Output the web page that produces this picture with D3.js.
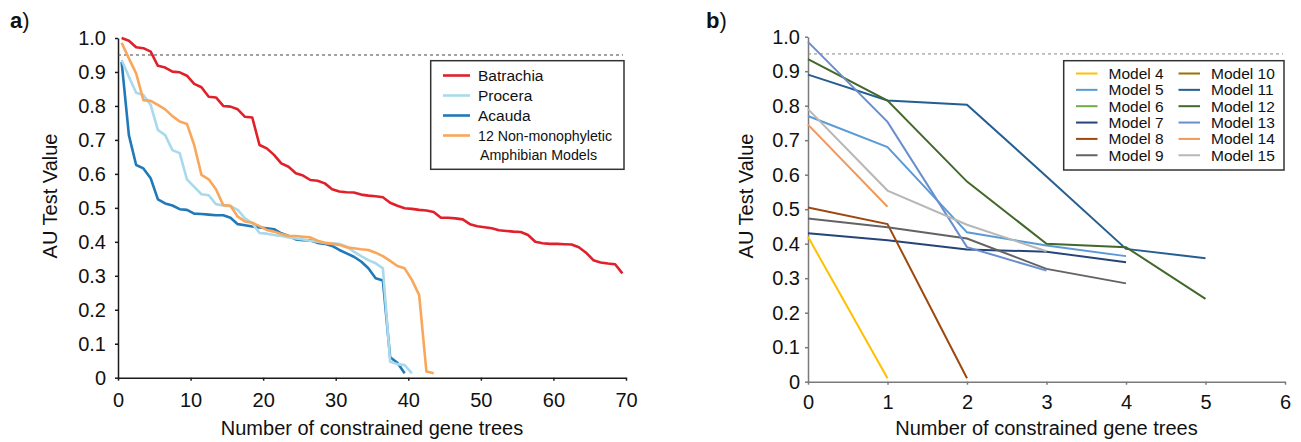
<!DOCTYPE html>
<html>
<head>
<meta charset="utf-8">
<script src="https://cdn.jsdelivr.net/npm/d3@7/dist/d3.min.js"></script>
<style>
    body { margin: 0; background: #fff; }
    text { font-family: 'Liberation Sans', Arial, Helvetica, sans-serif; }
</style>
</head>
<body>
<div id="chart"></div>
<script>
/* global d3 */

// panel a: AU values sorted per constrained gene tree
let batrachia = [
    1.0, 0.992, 0.973, 0.970, 0.960, 0.918, 0.913, 0.901, 0.899, 0.889,
    0.865, 0.855, 0.827, 0.825, 0.800, 0.798, 0.790, 0.768, 0.766, 0.685,
    0.675, 0.656, 0.631, 0.621, 0.602, 0.595, 0.582, 0.580, 0.572, 0.555,
    0.548, 0.546, 0.545, 0.539, 0.536, 0.534, 0.531, 0.515, 0.506, 0.499,
    0.497, 0.494, 0.492, 0.488, 0.471, 0.471, 0.469, 0.466, 0.452, 0.446,
    0.443, 0.440, 0.434, 0.432, 0.430, 0.429, 0.420, 0.400, 0.396, 0.394,
    0.394, 0.393, 0.392, 0.384, 0.368, 0.346, 0.339, 0.336, 0.334, 0.307
]
let procera = [
    0.935, 0.886, 0.839, 0.832, 0.803, 0.729, 0.714, 0.670, 0.661, 0.584,
    0.562, 0.540, 0.537, 0.511, 0.507, 0.505, 0.494, 0.469, 0.455, 0.426,
    0.424, 0.420, 0.417, 0.413, 0.410, 0.407, 0.403, 0.400, 0.397, 0.396,
    0.394, 0.386, 0.371, 0.358, 0.346, 0.337, 0.322, 0.047, 0.040, 0.037,
    0.013
]
let acauda = [
    0.930, 0.714, 0.626, 0.616, 0.587, 0.525, 0.513, 0.507, 0.496, 0.494,
    0.483, 0.482, 0.480, 0.478, 0.478, 0.471, 0.452, 0.449, 0.445, 0.442,
    0.440, 0.437, 0.425, 0.417, 0.407, 0.405, 0.404, 0.397, 0.394, 0.388,
    0.376, 0.366, 0.356, 0.342, 0.322, 0.293, 0.286, 0.060, 0.044, 0.013
]
let nonMono = [
    0.986, 0.940, 0.896, 0.817, 0.815, 0.803, 0.790, 0.770, 0.754, 0.747,
    0.685, 0.597, 0.584, 0.555, 0.508, 0.506, 0.474, 0.460, 0.456, 0.446,
    0.435, 0.430, 0.423, 0.417, 0.417, 0.415, 0.413, 0.403, 0.397, 0.394,
    0.391, 0.384, 0.381, 0.378, 0.376, 0.368, 0.358, 0.344, 0.329, 0.322,
    0.288, 0.243, 0.018, 0.013
]
let seriesNamesA = ['Batrachia', 'Procera', 'Acauda', '12 Non-monophyletic']
let seriesColorsA = ['#e0212b', '#a8daec', '#2079b9', '#f9a75b']

// panel b: one line per model
let model4 = [0.42, 0.01]
let model5 = [0.77, 0.68, 0.433, 0.395, 0.364]
let model6 = []
let model7 = [0.43, 0.41, 0.383, 0.377, 0.346]
let model8 = [0.505, 0.457, 0.01]
let model9 = [0.473, 0.448, 0.415, 0.327, 0.285]
let model10 = []
let model11 = [0.89, 0.815, 0.803, 0.595, 0.385, 0.358]
let model12 = [0.935, 0.815, 0.58, 0.40, 0.39, 0.24]
let model13 = [0.985, 0.753, 0.39, 0.322]
let model14 = [0.745, 0.507]
let model15 = [0.79, 0.554, 0.455, 0.378]
let modelNames = ['Model 4', 'Model 5', 'Model 6', 'Model 7', 'Model 8', 'Model 9',
    'Model 10', 'Model 11', 'Model 12', 'Model 13', 'Model 14', 'Model 15']
let modelColors = ['#ffc000', '#5b9bd5', '#70ad47', '#264478', '#9e480e', '#636363',
    '#997300', '#255e91', '#43682b', '#698ed0', '#f1975a', '#b7b7b7']

let yTicks = [0, 0.1, 0.2, 0.3, 0.4, 0.5, 0.6, 0.7, 0.8, 0.9, 1.0]
let xTicksA = [0, 10, 20, 30, 40, 50, 60, 70]
let xTicksB = [0, 1, 2, 3, 4, 5, 6]
let threshold = 0.95

let svg = d3.select('#chart').append('svg')
    .attr('width', 1301)
    .attr('height', 442)

let yFormat = (d) => d === 0 ? '0' : d3.format('.1f')(d)
let fontStack = "'Liberation Sans', Arial, Helvetica, sans-serif"

function drawAxes (g, xScale, yScale, opts) {
    let xAxis = g.append('g').attr('class', 'x-axis')
        .attr('transform', 'translate(0,' + yScale(0) + ')')
        .call(d3.axisBottom(xScale).tickValues(opts.xTicks).tickFormat(d3.format('d'))
            .tickSize(3).tickSizeOuter(0).tickPadding(opts.xPad))
    let yAxis = g.append('g').attr('class', 'y-axis')
        .attr('transform', 'translate(' + xScale(0) + ',0)')
        .call(d3.axisLeft(yScale).tickValues(yTicks).tickFormat(yFormat)
            .tickSize(3).tickSizeOuter(0).tickPadding(opts.yPad))

    ;[xAxis, yAxis].forEach((ax) => {
        ax.attr('font-size', 20).attr('font-family', fontStack)
        ax.select('.domain').attr('stroke', opts.axisColor).attr('stroke-width', 1.5)
        ax.selectAll('.tick line').attr('stroke', opts.axisColor).attr('stroke-width', 1.5)
        ax.selectAll('.tick text').attr('fill', '#111')
    })

    // 0.95 significance line
    g.append('line')
        .attr('x1', xScale(0)).attr('x2', opts.dashEnd)
        .attr('y1', yScale(threshold)).attr('y2', yScale(threshold))
        .attr('stroke', opts.dashColor)
        .attr('stroke-width', 1)
        .attr('stroke-dasharray', '3,3')

    let xMid = (xScale.range()[0] + xScale.range()[1]) / 2
    g.append('text')
        .attr('x', xMid).attr('y', 435)
        .attr('text-anchor', 'middle')
        .attr('font-size', 20)
        .attr('fill', '#111')
        .text('Number of constrained gene trees')

    g.append('text')
        .attr('transform', 'translate(' + opts.yTitleX + ',196) rotate(-90)')
        .attr('text-anchor', 'middle')
        .attr('font-size', 20)
        .attr('fill', '#111')
        .text('AU Test Value')

    let label = g.append('text')
        .attr('x', opts.labelX).attr('y', 28)
        .attr('font-size', 22)
        .attr('fill', '#111')
    label.append('tspan').attr('font-weight', 'bold').text(opts.label)
    label.append('tspan').text(')')
}

// ---- panel a
let xScaleA = d3.scaleLinear().domain([0, 70]).range([118, 626])
let yScaleA = d3.scaleLinear().domain([0, 1]).range([377.7, 38])
let gA = svg.append('g').attr('class', 'panel-a')

drawAxes(gA, xScaleA, yScaleA, {
    xTicks: xTicksA, xPad: 12, yPad: 9, axisColor: '#1a1a1a',
    dashColor: '#444', dashEnd: 623, yTitleX: 57, labelX: 10, label: 'a'
})

let lineA = d3.line()
    .x((d, i) => xScaleA(i + 0.5))
    .y((d) => yScaleA(d))

let seriesA = [batrachia, procera, acauda, nonMono]
let drawOrderA = [0, 2, 1, 3]
gA.append('g').attr('class', 'lines')
    .selectAll('path')
    .data(drawOrderA)
    .enter()
    .append('path')
    .attr('d', (k) => lineA(seriesA[k]))
    .attr('fill', 'none')
    .attr('stroke', (k) => seriesColorsA[k])
    .attr('stroke-width', 2.6)
    .attr('stroke-linejoin', 'round')

// legend a
let legendA = gA.append('g').attr('class', 'legend')
legendA.append('rect')
    .attr('x', 430.7).attr('y', 60.7)
    .attr('width', 193.3).attr('height', 108.6)
    .attr('fill', '#fff')
    .attr('stroke', '#333')
    .attr('stroke-width', 1.5)
seriesNamesA.forEach((name, i) => {
    let y = 75.5 + i * 20
    legendA.append('line')
        .attr('x1', 443).attr('x2', 470)
        .attr('y1', y).attr('y2', y)
        .attr('stroke', seriesColorsA[i])
        .attr('stroke-width', 2.6)
    let t = legendA.append('text')
        .attr('x', 478).attr('y', y).attr('dy', '0.35em')
        .attr('font-size', 15.5)
        .attr('fill', '#111')
        .text(name)
    // the long entry is set tighter in the original
    if (i === 3) t.attr('textLength', 134).attr('lengthAdjust', 'spacingAndGlyphs')
})
legendA.append('text')
    .attr('x', 480).attr('y', 155).attr('dy', '0.35em')
    .attr('font-size', 15.5)
    .attr('fill', '#111')
    .attr('textLength', 117)
    .attr('lengthAdjust', 'spacingAndGlyphs')
    .text('Amphibian Models')

// ---- panel b
let xScaleB = d3.scaleLinear().domain([0, 6]).range([808, 1285])
let yScaleB = d3.scaleLinear().domain([0, 1]).range([381.7, 36.7])
let gB = svg.append('g').attr('class', 'panel-b')

drawAxes(gB, xScaleB, yScaleB, {
    xTicks: xTicksB, xPad: 10, yPad: 5, axisColor: '#7a7a7a',
    dashColor: '#888', dashEnd: 1283, yTitleX: 753, labelX: 706, label: 'b'
})

let lineB = d3.line()
    .x((d, i) => xScaleB(i))
    .y((d) => yScaleB(d))

let modelValues = [model4, model5, model6, model7, model8, model9,
    model10, model11, model12, model13, model14, model15]
gB.append('g').attr('class', 'lines')
    .selectAll('path')
    .data(modelValues)
    .enter()
    .append('path')
    .attr('d', (d) => d.length > 1 ? lineB(d) : null)
    .attr('fill', 'none')
    .attr('stroke', (d, i) => modelColors[i])
    .attr('stroke-width', 2)

// legend b
let legendB = gB.append('g').attr('class', 'legend')
legendB.append('rect')
    .attr('x', 1063.7).attr('y', 60.7)
    .attr('width', 220.3).attr('height', 109.3)
    .attr('fill', '#fff')
    .attr('stroke', '#333')
    .attr('stroke-width', 1.5)
modelNames.forEach((name, i) => {
    let col = Math.floor(i / 6)
    let row = i % 6
    let y = 73.5 + row * 16.35
    let x0 = col === 0 ? 1076 : 1178.5
    legendB.append('line')
        .attr('x1', x0).attr('x2', x0 + 21.5)
        .attr('y1', y).attr('y2', y)
        .attr('stroke', modelColors[i])
        .attr('stroke-width', 2)
    legendB.append('text')
        .attr('x', x0 + 32.5).attr('y', y).attr('dy', '0.35em')
        .attr('font-size', 15.5)
        .attr('fill', '#111')
        .text(name)
})
</script>
</body>
</html>
